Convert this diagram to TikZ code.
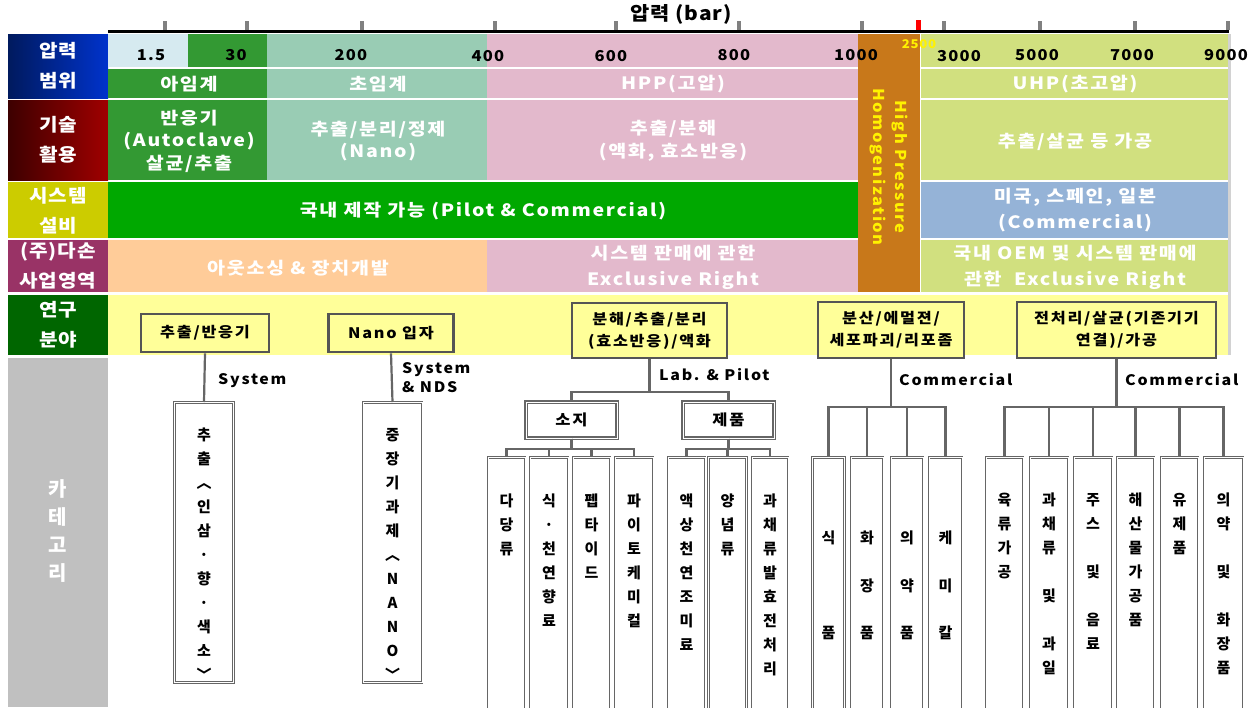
\documentclass[tikz,border=0pt]{standalone}
\usepackage{fontspec}
\setmainfont{Noto Sans CJK KR}
\usetikzlibrary{calc}
\definecolor{cLtBlue}{HTML}{D6EAF0}
\definecolor{cGreen}{HTML}{339933}
\definecolor{cTeal}{HTML}{99CCB4}
\definecolor{cPink}{HTML}{E3B9CC}
\definecolor{cOrange}{HTML}{C8781A}
\definecolor{cYG}{HTML}{D1E07F}
\definecolor{cGreenB}{HTML}{00A800}
\definecolor{cBlueSeg}{HTML}{95B3D7}
\definecolor{cPeach}{HTML}{FFCC99}
\definecolor{cYellow}{HTML}{FFFF99}
\definecolor{cNavy}{HTML}{001A5E}
\definecolor{cBlue}{HTML}{0033CC}
\definecolor{cDarkRed}{HTML}{3D0000}
\definecolor{cRed}{HTML}{A00000}
\definecolor{cOlive}{HTML}{CCCC00}
\definecolor{cPlum}{HTML}{993366}
\definecolor{cDkGreen}{HTML}{006600}
\definecolor{cGrayLab}{HTML}{C0C0C0}
\definecolor{cTick}{HTML}{808080}
\definecolor{cBoxGray}{HTML}{555555}
\definecolor{cConn}{HTML}{666666}
\newcommand{\sfont}[4]{\bfseries\fontsize{#1}{#2}\selectfont\addfontfeatures{LetterSpace=#3,FakeStretch=#4}}
\tikzset{
  rowlab/.style={font=\sfont{18}{30}{5}{1.12}, text=white, align=center, inner sep=0pt},
  seglab/.style={font=\sfont{17}{22.5}{10}{1.15}, text=white, align=center, inner sep=0pt},
  seglabB/.style={font=\sfont{17}{26}{10}{1.15}, text=white, align=center, inner sep=0pt},
  numlab/.style={font=\sfont{15}{16}{8}{1.1}, text=black, inner sep=0pt},
  topbox/.style={draw=cBoxGray, line width=2.6pt, fill=cYellow, font=\sfont{14.5}{22}{12}{1.12}, align=center, inner sep=0pt},
  leafbox/.style={draw=cConn, line width=0.9pt, double=white, double distance=0.9pt, anchor=north, inner sep=0pt, minimum height=280pt},
  midbox/.style={draw=cConn, line width=1.1pt, double=white, double distance=0.9pt, inner sep=0pt, minimum width=91pt, minimum height=36pt, font=\sfont{15}{16}{12}{1.1}},
  vtext/.style={font=\bfseries\fontsize{15}{24}\selectfont, align=center, anchor=north, inner sep=0pt},
  vtextwide/.style={font=\bfseries\fontsize{15}{47.5}\selectfont, align=center, anchor=north, inner sep=0pt},
  conn/.style={draw=cConn, line width=2.2pt},
  brlab/.style={font=\sfont{14.5}{19}{12}{1.1}, anchor=west, align=left, inner sep=0pt},
}
\begin{document}
\begin{tikzpicture}[x=1pt,y=-1pt]
\useasboundingbox (0,0) rectangle (1258,707);
\clip (0,0) rectangle (1258,707);

% ---------- axis ----------
\node[font=\sfont{19}{20}{5}{1.1}, inner sep=0pt] (title) at (681,14) {압력 (bar)};
\foreach \t in {165,247,362,495,616,739,862,944,1040,1135,1228}
  \fill[cTick] (\t-2,21) rectangle (\t+2,30);
\fill[red] (916,20) rectangle (921,30);
\draw[line width=3pt] (108,31) -- (1229,31);

% ---------- left label column ----------
\shade[left color=cNavy, right color=cBlue] (8,34) rectangle (108,98);
\shade[left color=cDarkRed, right color=cRed] (8,100) rectangle (108,180);
\fill[cOlive] (8,182) rectangle (108,238);
\fill[cPlum] (8,240) rectangle (108,292);
\fill[cDkGreen] (8,295) rectangle (108,355);
\fill[cGrayLab] (8,358) rectangle (108,707);
\node[rowlab] (l1) at (58,66) {압력\\범위};
\node[rowlab] (l2) at (58,140) {기술\\활용};
\node[rowlab] (l3) at (58,211) {시스템\\설비};
\node[rowlab] (l4) at (58,266) {(주)다손\\사업영역};
\node[rowlab] (l5) at (58,325) {연구\\분야};
\node[font=\bfseries\fontsize{20}{28}\selectfont, text=white, align=center, inner sep=0pt] (l6) at (58,531) {카\\테\\고\\리};

% ---------- row 1 ----------
\fill[cLtBlue] (108,34) rectangle (188,67);
\fill[cGreen] (188,34) rectangle (267,67);
\fill[cTeal] (267,34) rectangle (487,67);
\fill[cPink] (487,34) rectangle (858,67);
\fill[cYG] (921,34) rectangle (1228,67);
\fill[cGreen] (108,69) rectangle (267,98);
\fill[cTeal] (267,69) rectangle (487,98);
\fill[cPink] (487,69) rectangle (858,98);
\fill[cYG] (921,69) rectangle (1228,98);
% ---------- row 2 ----------
\fill[cGreen] (108,100) rectangle (267,180);
\fill[cTeal] (267,100) rectangle (487,180);
\fill[cPink] (487,100) rectangle (858,180);
\fill[cYG] (921,100) rectangle (1228,180);
% ---------- row 3 ----------
\fill[cGreenB] (108,182) rectangle (858,238);
\fill[cBlueSeg] (921,182) rectangle (1228,238);
% ---------- row 4 ----------
\fill[cPeach] (108,240) rectangle (487,292);
\fill[cPink] (487,240) rectangle (858,292);
\fill[cYG] (921,240) rectangle (1228,292);
% ---------- HPH column ----------
\fill[cOrange] (858,34) rectangle (920,292);
% ---------- row 5 ----------
\fill[cYellow] (108,295) rectangle (1228,355);
\fill[gray!35] (1228,34) rectangle (1231,355);

% numbers
\node[numlab] (n1) at (151,55) {1.5};
\node[numlab] (n2) at (236,55) {30};
\node[numlab] (n3) at (351,55) {200};
\node[numlab] (n4) at (488,56) {400};
\node[numlab] (n5) at (611,56) {600};
\node[numlab] (n6) at (734,55) {800};
\node[numlab] (n7) at (856,55) {1000};
\node[numlab] (n8) at (959,56) {3000};
\node[numlab] (n9) at (1037,55) {5000};
\node[numlab] (n10) at (1132,55) {7000};
\node[numlab] (n11) at (1226,55) {9000};
\node[font=\sfont{12}{12}{6}{1.1}, text=yellow, inner sep=0pt] (n12) at (919,44) {2500};

% row 1 labels
\node[seglab] (s1) at (189,84) {아임계};
\node[seglab] (s2) at (378,84) {초임계};
\node[seglab] (s3) at (673,84) {HPP(고압)};
\node[seglab] (s4) at (1075,84) {UHP(초고압)};
% row 2 labels
\node[seglab] (s5) at (189,141) {반응기\\(Autoclave)\\살균/추출};
\node[seglab] (s6) at (378,141) {추출/분리/정제\\(Nano)};
\node[seglab] (s7) at (673,141) {추출/분해\\(액화, 효소반응)};
\node[seglab] (s8) at (1075,142) {추출/살균 등 가공};
% row 3 labels
\node[seglab] (s9) at (483,211) {국내 제작 가능 (Pilot \& Commercial)};
\node[seglabB] (s10) at (1075,210) {미국, 스페인, 일본\\(Commercial)};
% row 4 labels
\node[seglab] (s11) at (298,268) {아웃소싱 \& 장치개발};
\node[seglabB] (s12) at (673,267) {시스템 판매에 관한\\Exclusive Right};
\node[seglabB] (s13) at (1075,267) {국내 OEM 및 시스템 판매에\\관한~~Exclusive Right};
% HPH
\node[rotate=-90, font=\sfont{15}{22}{10}{1.1}, text=yellow, align=center, inner sep=0pt] (hph) at (889,167) {High Pressure\\Homogenization};

% ---------- research boxes ----------
\node[topbox, minimum width=128pt, minimum height=38pt] (r1) at (205,333) {추출/반응기};
\node[topbox, minimum width=125pt, minimum height=38pt] (r2) at (391,333) {Nano 입자};
\node[topbox, minimum width=155pt, minimum height=55pt] (r3) at (649.5,330.5) {분해/추출/분리\\(효소반응)/액화};
\node[topbox, minimum width=146pt, minimum height=56pt] (r4) at (891,330) {분산/에멀젼/\\세포파괴/리포좀};
\node[topbox, minimum width=199pt, minimum height=56pt] (r5) at (1116.5,330) {전처리/살균(기존기기\\연결)/가공};

% bar levels
\coordinate (barA) at (0,392);
\coordinate (barB) at (0,449);
\coordinate (barC) at (0,407);

% ---------- branch 1 ----------
\node[leafbox, minimum width=59pt] (k1) at (204,402) {};
\node[vtext] (k1t) at ([yshift=-26pt]k1.north) {추\\출\\︿\\인\\삼\\·\\향\\·\\색\\소\\﹀};
\draw[conn] (r1.south) -- (k1.north);
\node[brlab] (bl1) at (218,381) {System};

% ---------- branch 2 ----------
\node[leafbox, minimum width=59pt] (k2) at (392.5,402) {};
\node[vtext] (k2t) at ([yshift=-26pt]k2.north) {중\\장\\기\\과\\제\\︿\\N\\A\\N\\O\\﹀};
\draw[conn] (r2.south) -- (k2.north);
\node[brlab] (bl2) at (402,378) {System\\\& NDS};

% ---------- branch 3 ----------
\node[midbox] (m1) at (571.5,420) {소지};
\node[midbox] (m2) at (728.5,420) {제품};
\draw[conn] (r3.south) -- (r3.south |- barA) -| (m1.north);
\draw[conn] (r3.south) -- (r3.south |- barA) -| (m2.north);
\node[brlab] (bl3) at (659,375) {Lab. \& Pilot};

\node[leafbox, minimum width=37pt] (a1) at (506.5,457) {};
\node[leafbox, minimum width=38pt] (a2) at (549,457) {};
\node[leafbox, minimum width=37pt] (a3) at (591.5,457) {};
\node[leafbox, minimum width=38pt] (a4) at (634,457) {};
\foreach \c in {a1,a2,a3,a4}
  \draw[conn] (m1.south) -- (m1.south |- barB) -| (\c.north);
\node[vtext] (a1t) at ([yshift=-37pt]a1.north) {다\\당\\류};
\node[vtext] (a2t) at ([yshift=-37pt]a2.north) {식\\·\\천\\연\\향\\료};
\node[vtext] (a3t) at ([yshift=-37pt]a3.north) {펩\\타\\이\\드};
\node[vtext] (a4t) at ([yshift=-37pt]a4.north) {파\\이\\토\\케\\미\\컬};

\node[leafbox, minimum width=37pt] (b1) at (686.5,457) {};
\node[leafbox, minimum width=38pt] (b2) at (727.5,457) {};
\node[leafbox, minimum width=36pt] (b3) at (770,457) {};
\foreach \c in {b1,b2,b3}
  \draw[conn] (m2.south) -- (m2.south |- barB) -| (\c.north);
\node[vtext] (b1t) at ([yshift=-37pt]b1.north) {액\\상\\천\\연\\조\\미\\료};
\node[vtext] (b2t) at ([yshift=-37pt]b2.north) {양\\념\\류};
\node[vtext] (b3t) at ([yshift=-37pt]b3.north) {과\\채\\류\\발\\효\\전\\처\\리};

% ---------- branch 4 ----------
\node[brlab] (bl4) at (899,380) {Commercial};
\node[leafbox, minimum width=32pt] (c1) at (828.5,457) {};
\node[leafbox, minimum width=32pt] (c2) at (867,457) {};
\node[leafbox, minimum width=32pt] (c3) at (907,457) {};
\node[leafbox, minimum width=33pt] (c4) at (945.5,457) {};
\foreach \c in {c1,c2,c3,c4}
  \draw[conn] (r4.south) -- (r4.south |- barC) -| (\c.north);
\node[vtextwide] (c1t) at ([yshift=-74pt]c1.north) {식\\\mbox{}\\품};
\node[vtextwide] (c2t) at ([yshift=-74pt]c2.north) {화\\장\\품};
\node[vtextwide] (c3t) at ([yshift=-74pt]c3.north) {의\\약\\품};
\node[vtextwide] (c4t) at ([yshift=-74pt]c4.north) {케\\미\\칼};

% ---------- branch 5 ----------
\node[brlab] (bl5) at (1125,380) {Commercial};
\node[leafbox, minimum width=37pt] (d1) at (1004.5,457) {};
\node[leafbox, minimum width=38pt] (d2) at (1049,457) {};
\node[leafbox, minimum width=38pt] (d3) at (1093,457) {};
\node[leafbox, minimum width=37pt] (d4) at (1135.5,457) {};
\node[leafbox, minimum width=37pt] (d5) at (1179.5,457) {};
\node[leafbox, minimum width=39pt] (d6) at (1223.5,457) {};
\foreach \c in {d1,d2,d3,d4,d5,d6}
  \draw[conn] (r5.south) -- (r5.south |- barC) -| (\c.north);
\node[vtext] (d1t) at ([yshift=-36pt]d1.north) {육\\류\\가\\공};
\node[vtext] (d2t) at ([yshift=-36pt]d2.north) {과\\채\\류\\\mbox{}\\및\\\mbox{}\\과\\일};
\node[vtext] (d3t) at ([yshift=-36pt]d3.north) {주\\스\\\mbox{}\\및\\\mbox{}\\음\\료};
\node[vtext] (d4t) at ([yshift=-36pt]d4.north) {해\\산\\물\\가\\공\\품};
\node[vtext] (d5t) at ([yshift=-36pt]d5.north) {유\\제\\품};
\node[vtext] (d6t) at ([yshift=-36pt]d6.north) {의\\약\\\mbox{}\\및\\\mbox{}\\화\\장\\품};
\end{tikzpicture}
\end{document}
